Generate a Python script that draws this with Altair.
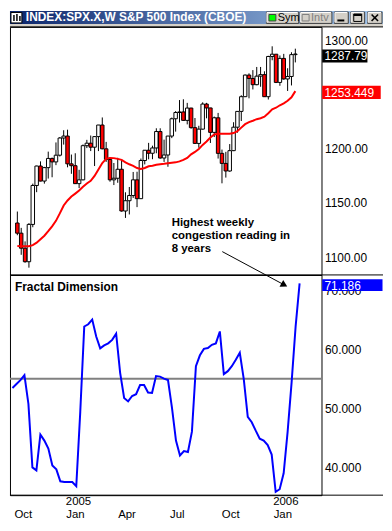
import altair as alt
import pandas as pd

# ---------------- values ----------------
week_dates = pd.date_range("2004-10-04", periods=73, freq="7D").strftime("%Y-%m-%d").tolist()

opens = [1131.5, 1122.1, 1108.2, 1095.7, 1130.2, 1166.2, 1184.2, 1170.3, 1182.7, 1191.2,
         1188.0, 1194.2, 1210.1, 1211.9, 1186.2, 1184.5, 1167.9, 1171.4, 1203.0, 1205.3,
         1201.6, 1211.4, 1222.1, 1200.1, 1190.2, 1171.4, 1172.9, 1181.2, 1142.6, 1152.1,
         1156.9, 1171.4, 1154.0, 1189.3, 1198.8, 1196.0, 1200.9, 1216.1, 1191.6, 1194.4,
         1211.9, 1227.9, 1233.7, 1234.2, 1226.4, 1237.8, 1219.7, 1205.1, 1218.3, 1241.5,
         1237.9, 1215.3, 1228.8, 1195.9, 1186.6, 1179.6, 1198.4, 1220.1, 1234.7, 1248.3,
         1268.3, 1265.1, 1259.4, 1267.3, 1268.7, 1248.3, 1285.5, 1287.6, 1261.5, 1283.7,
         1264.7, 1267.0, 1287.2]
highs = [1142.1, 1127.0, 1114.5, 1131.4, 1167.9, 1184.5, 1188.5, 1183.4, 1197.5, 1192.0,
         1206.0, 1211.0, 1217.3, 1217.8, 1194.8, 1196.0, 1180.7, 1204.1, 1208.4, 1212.4,
         1211.5, 1222.2, 1229.1, 1206.5, 1192.3, 1187.0, 1191.8, 1190.3, 1159.9, 1164.8,
         1178.7, 1178.9, 1191.1, 1199.0, 1205.6, 1203.0, 1219.1, 1219.1, 1208.6, 1212.0,
         1229.0, 1235.0, 1245.2, 1245.9, 1242.6, 1238.0, 1228.6, 1221.4, 1243.1, 1242.6,
         1238.0, 1229.9, 1233.3, 1199.4, 1197.3, 1204.5, 1224.7, 1235.0, 1249.6, 1268.8,
         1269.9, 1272.9, 1275.8, 1275.8, 1271.8, 1286.1, 1294.9, 1287.6, 1286.4, 1287.9,
         1274.6, 1289.4, 1292.7]
lows = [1120.2, 1102.1, 1094.8, 1090.2, 1127.6, 1160.0, 1170.0, 1167.9, 1172.6, 1173.8,
        1185.0, 1193.0, 1204.0, 1183.0, 1177.0, 1167.6, 1163.8, 1171.0, 1200.8, 1198.0,
        1184.2, 1198.0, 1199.7, 1188.0, 1169.7, 1166.6, 1168.7, 1142.0, 1136.2, 1139.4,
        1154.7, 1146.2, 1154.0, 1185.7, 1190.4, 1190.5, 1196.0, 1191.0, 1188.0, 1183.5,
        1210.0, 1216.0, 1224.4, 1225.9, 1222.7, 1218.7, 1205.0, 1201.1, 1218.0, 1228.3,
        1205.5, 1211.0, 1191.1, 1168.2, 1173.5, 1178.9, 1198.0, 1215.0, 1225.8, 1248.0,
        1246.8, 1255.0, 1258.9, 1257.5, 1248.3, 1245.7, 1282.0, 1260.9, 1258.4, 1264.0,
        1253.6, 1258.7, 1280.0]
closes = [1122.1, 1108.2, 1095.7, 1130.2, 1166.2, 1184.2, 1170.3, 1182.7, 1191.2, 1188.0,
          1194.2, 1210.1, 1211.9, 1186.2, 1184.5, 1167.9, 1171.4, 1203.0, 1205.3, 1201.6,
          1211.4, 1222.1, 1200.1, 1190.2, 1171.4, 1172.9, 1181.2, 1142.6, 1152.1, 1156.9,
          1171.4, 1154.0, 1189.3, 1198.8, 1196.0, 1200.9, 1216.1, 1191.6, 1194.4, 1211.9,
          1227.9, 1233.7, 1234.2, 1226.4, 1237.8, 1219.7, 1205.1, 1218.3, 1241.5, 1237.9,
          1215.3, 1228.8, 1195.9, 1186.6, 1179.6, 1198.4, 1220.1, 1234.7, 1248.3, 1268.3,
          1265.1, 1259.4, 1267.3, 1268.7, 1248.3, 1285.5, 1287.6, 1261.5, 1283.7, 1264.7,
          1267.0, 1287.2, 1287.79]
ma_values = [1110.3, 1110.1, 1110.1, 1110.1, 1111.0, 1113.3, 1116.5, 1119.7, 1123.9, 1128.4,
             1133.5, 1140.4, 1147.7, 1152.3, 1156.0, 1158.7, 1161.5, 1165.0, 1168.0, 1170.5,
             1175.0, 1181.0, 1187.0, 1190.8, 1191.7, 1191.5, 1190.8, 1189.9, 1187.6, 1185.8,
             1184.4, 1182.3, 1181.5, 1182.4, 1184.0, 1184.4, 1185.3, 1185.8, 1186.2, 1186.7,
             1187.2, 1187.6, 1188.5, 1189.9, 1191.7, 1195.0, 1197.2, 1200.0, 1203.7, 1206.9,
             1210.6, 1213.3, 1214.0, 1214.0, 1214.0, 1214.0, 1214.7, 1216.5, 1219.7, 1222.9,
             1224.8, 1226.1, 1227.5, 1228.4, 1229.8, 1233.0, 1236.7, 1238.1, 1240.4, 1242.2,
             1244.5, 1247.7, 1253.449]
fd_values = [53.45, 54.12, 54.79, 55.63, 50.76, 40.0, 39.5, 45.55, 44.54, 43.19,
             40.34, 39.66, 37.65, 37.53, 37.53, 37.53, 36.81, 49.41, 63.87, 64.25,
             65.04, 62.18, 60.17, 60.67, 61.01, 61.60, 62.64, 56.02, 51.76, 51.18,
             52.10, 52.39, 53.95, 53.95, 52.69, 52.61, 55.46, 55.38, 55.04, 54.79,
             50.08, 44.54, 42.02, 42.77, 42.61, 46.05, 57.14, 58.99, 60.08, 60.22,
             60.76, 61.01, 63.03, 55.80, 56.30, 57.14, 58.24, 59.41, 54.96, 48.57,
             47.65, 46.22, 44.87, 44.54, 43.78, 42.18, 35.85, 36.30, 38.99, 46.05,
             54.45, 63.87, 71.186]

price_ticks = [1100, 1150, 1200, 1300]
fd_ticks = [40, 50, 60, 70]
fd_ref_level = [55]
axis_dates = ["2004-10-04", "2005-01-03", "2005-04-04", "2005-07-04", "2005-10-03", "2006-01-02"]
axis_months = ["Oct", "Jan", "Apr", "Jul", "Oct", "Jan"]
year_dates = ["2005-01-03", "2006-01-02"]
year_labels = ["2005", "2006"]
price_markers = [1287.79, 1253.449]
price_marker_labels = ["1287.79", "1253.449"]
fd_marker = [71.186]
fd_marker_label = ["71.186"]
title_text = "INDEX:SPX.X,W S&P 500 Index (CBOE)"
panel_label = "Fractal Dimension"
note_lines = ["Highest weekly", "congestion reading in", "8 years"]

# ---------------- helpers ----------------
FONT = "Liberation Sans"
GRAY = "#d4d0c8"
DARK = "#404040"


def ms(d):
    return int(pd.Timestamp(d).value // 10**6)


WEEK = 7 * 86400000
x_domain = [ms(week_dates[0]) - 0.622 * WEEK, ms(week_dates[0]) + 77.49 * WEEK]
xscale = alt.Scale(type="utc", domain=x_domain)

df = pd.DataFrame({"date": week_dates, "open": opens, "high": highs, "low": lows,
                   "close": closes, "ma": ma_values, "fd": fd_values})
dummy = pd.DataFrame({"a": [0]})


def rect(x, x2, y, y2, **kw):
    return alt.Chart(dummy).mark_rect(**kw).encode(
        x=alt.value(x), x2=alt.value(x2), y=alt.value(y), y2=alt.value(y2))


def rule(x, x2, y, y2, **kw):
    return alt.Chart(dummy).mark_rule(**kw).encode(
        x=alt.value(x), x2=alt.value(x2), y=alt.value(y), y2=alt.value(y2))


def text(x, y, t, **kw):
    opts = dict(align="left", baseline="alphabetic", font=FONT, fontSize=12, color="black")
    opts.update(kw)
    return alt.Chart(dummy).mark_text(text=t, **opts).encode(x=alt.value(x), y=alt.value(y))


def button(x0, x1):
    return [rect(x0, x1, 1, 12.5, color=GRAY, stroke=DARK, strokeWidth=1),
            rule(x0 + 0.5, x1 - 1, 1.5, 1.5, color="white", strokeWidth=1),
            rule(x0 + 0.5, x0 + 0.5, 1.5, 11.5, color="white", strokeWidth=1)]


# ---------------- title bar ----------------
grad = alt.Gradient(gradient="linear",
                    stops=[alt.GradientStop(color="#0a246a", offset=0),
                           alt.GradientStop(color="#a6caf0", offset=1)],
                    x1=0, x2=1, y1=0, y2=0)
title_layers = [
    rect(0, 376, 0, 16, color=GRAY),
    rect(0, 376, 0, 13, color=grad),
    rect(1, 12, 1.5, 12, color="white", stroke="black", strokeWidth=1),
    rule(4, 4, 4, 10, color="black", strokeWidth=1.5),
    rule(7, 7, 3, 10, color="black", strokeWidth=1.5),
    rule(10, 10, 5, 10, color="black", strokeWidth=1.5),
    text(16, 10.5, title_text, color="white", fontWeight="bold"),
]
title_layers += button(258.5, 291)
title_layers += [rect(261, 268, 3.5, 10, color="#00ff00", stroke=DARK, strokeWidth=1),
                 text(270, 10.5, "Sym", fontSize=11)]
title_layers += button(292.5, 324.5)
title_layers += [rect(294.5, 301.5, 3.5, 10, color=GRAY, stroke="#808080", strokeWidth=1),
                 text(303.5, 10.5, "Intv", fontSize=11, color="#808080")]
title_layers += button(327, 341)
title_layers += [rect(330, 337, 8.5, 10.5, color="black")]
title_layers += button(343.5, 357.5)
title_layers += [rect(346.5, 354.5, 3, 10.5, fillOpacity=0, stroke="black", strokeWidth=1),
                 rect(346.5, 354.5, 3, 5, color="black")]
title_layers += button(360.5, 375)
title_layers += [rule(364.5, 371, 3.5, 10, color="black", strokeWidth=1.6),
                 rule(371, 364.5, 3.5, 10, color="black", strokeWidth=1.6)]
title_chart = alt.layer(*title_layers).properties(
    width=376, height=16, view=alt.ViewBackground(stroke="transparent"))

# ---------------- price panel ----------------
price_scale = alt.Scale(domain=[1083.49, 1312.84], nice=False, zero=False)
price_axis = alt.Axis(orient="right", values=price_ticks, format=".2f", ticks=False,
                      domain=False, grid=False, labelPadding=3, labelFont=FONT,
                      labelFontSize=12, labelColor="black", title=None,
                      labelFlush=False, labelOverlap=False)
x_top = alt.X("date:T", scale=xscale, axis=None)

wicks = alt.Chart(df).mark_rule(color="black", strokeWidth=1).encode(
    x=x_top, y=alt.Y("low:Q", scale=price_scale, axis=price_axis), y2="high:Q")
bodies = alt.Chart(df).mark_bar(size=3.5, stroke="black", strokeWidth=1).encode(
    x=x_top, y="open:Q", y2="close:Q",
    color=alt.condition("datum.close >= datum.open", alt.value("white"), alt.value("#ff0000")))
ma_line = alt.Chart(df).mark_line(color="#ff0000", strokeWidth=2).encode(x=x_top, y="ma:Q")

mk = pd.DataFrame({"v": price_markers, "label": price_marker_labels})
box_close = alt.Chart(mk.iloc[[0]]).mark_tick(
    orient="horizontal", thickness=13, size=45.6, color="black", opacity=1, yOffset=2
).encode(x=alt.value(337.5), y="v:Q")
box_ma = alt.Chart(mk.iloc[[1]]).mark_tick(
    orient="horizontal", thickness=13.4, size=59, color="#ff0000", opacity=1, yOffset=1.3
).encode(x=alt.value(344.2), y="v:Q")
lab_close = alt.Chart(mk.iloc[[0]]).mark_text(
    align="left", baseline="middle", color="white", font=FONT, fontSize=12, yOffset=2.5
).encode(x=alt.value(317), y="v:Q", text="label:N")
lab_ma = alt.Chart(mk.iloc[[1]]).mark_text(
    align="left", baseline="middle", color="white", font=FONT, fontSize=12, yOffset=1.8
).encode(x=alt.value(317), y="v:Q", text="label:N")

note = alt.Chart(dummy).mark_text(
    text=note_lines, align="left", baseline="alphabetic", font=FONT, fontSize=11.5,
    fontWeight="bold", lineHeight=13, color="black"
).encode(x=alt.value(163), y=alt.value(200.5))
arrow = rule(214, 276, 226.5, 259.8, color="black", strokeWidth=1)
head = alt.Chart(dummy).mark_point(
    shape="triangle-right", filled=True, color="black", opacity=1, size=60, angle=28.6
).encode(x=alt.value(276.5), y=alt.value(260))

top_chart = alt.layer(
    wicks, bodies, ma_line, box_close, box_ma, lab_close, lab_ma, note, arrow, head,
    rule(0, 376, 0, 0, color="black", strokeWidth=1),
    rule(0, 376, 250, 250, color="black", strokeWidth=1),
).properties(width=314, height=250,
             view=alt.ViewBackground(stroke="black", strokeWidth=1))

# ---------------- fractal dimension panel ----------------
FD_H = 222
fd_scale = alt.Scale(domain=[35.294, 72.605], nice=False, zero=False)
fd_axis = alt.Axis(orient="right", values=fd_ticks, format=".3f", ticks=False,
                   domain=False, grid=False, labelPadding=3, labelFont=FONT,
                   labelFontSize=12, labelColor="black", title=None,
                   labelFlush=False, labelOverlap=False)

expr = "''"
for d, mo in reversed(list(zip(axis_dates, axis_months))):
    expr = f"abs(+datum.value - {ms(d)}) < 43200000 ? '{mo}' : ({expr})"

x_axis = alt.Axis(values=[ms(d) for d in axis_dates], labelExpr=expr, ticks=False,
                  domain=False, grid=False, labelAlign="left", labelBaseline="top",
                  labelPadding=13.5, labelOffset=1.5, labelFlush=False, labelOverlap=False,
                  labelFont=FONT, labelFontSize=11.5, labelColor="black", title=None)

ref_line = alt.Chart(pd.DataFrame({"level": fd_ref_level})).mark_rule(
    color="#808080", strokeWidth=2).encode(y=alt.Y("level:Q", scale=fd_scale, axis=fd_axis))
fd_line = alt.Chart(df).mark_line(color="#0000ff", strokeWidth=2).encode(
    x=alt.X("date:T", scale=xscale, axis=x_axis), y="fd:Q")
years = alt.Chart(pd.DataFrame({"date": year_dates, "label": year_labels})).mark_text(
    align="left", baseline="top", font=FONT, fontSize=11.5, color="black", dx=1.5
).encode(x="date:T", y=alt.value(FD_H + 1), text="label:N")
fmk = pd.DataFrame({"v": fd_marker, "label": fd_marker_label})
box_fd = alt.Chart(fmk).mark_tick(
    orient="horizontal", thickness=12, size=60.8, color="#0000ff", opacity=1, yOffset=1.8
).encode(x=alt.value(345.1), y="v:Q")
lab_fd = alt.Chart(fmk).mark_text(
    align="left", baseline="middle", color="white", font=FONT, fontSize=12, yOffset=2.3
).encode(x=alt.value(317), y="v:Q", text="label:N")
fd_title = text(5, 16, panel_label, fontWeight="bold")

bottom_chart = alt.layer(
    ref_line, fd_line, years, box_fd, lab_fd, fd_title,
    rule(0, 376, FD_H, FD_H, color="black", strokeWidth=1),
).properties(width=314, height=FD_H,
             view=alt.ViewBackground(stroke="black", strokeWidth=1))

chart = alt.vconcat(title_chart, top_chart, bottom_chart, spacing=0, bounds="flush",
                    padding=0).configure(background="white")

chart.save("out.html", embed_options={"renderer": "svg", "actions": False})
